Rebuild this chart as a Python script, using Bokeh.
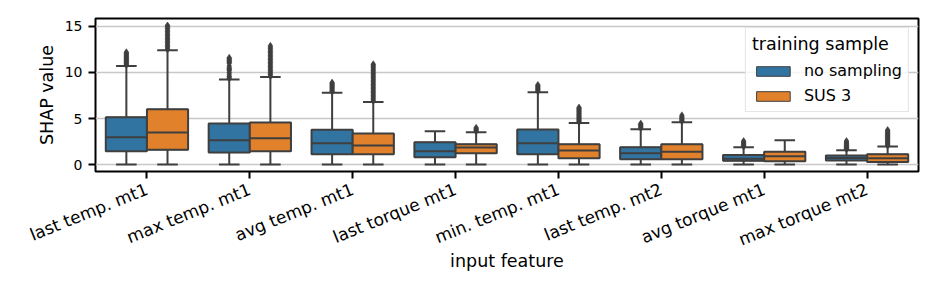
import math
from bokeh.plotting import figure
from bokeh.models import (ColumnDataSource, FixedTicker, Legend, LegendItem, Range1d)
from bokeh.embed import file_html
from bokeh.resources import INLINE

# ---------------- data ----------------
categories = ["last temp. mt1", "max temp. mt1", "avg temp. mt1", "last torque mt1",
              "min. temp. mt1", "last temp. mt2", "avg torque mt1", "max torque mt2"]
series_names = ["no sampling", "SUS 3"]

ns_low = [0.0, 0.0, 0.0, 0.0, 0.0, 0.0, 0.0, 0.0]
ns_q1 = [1.45, 1.3, 1.12, 0.8, 1.12, 0.58, 0.4, 0.45]
ns_med = [2.97, 2.65, 2.32, 1.45, 2.32, 1.23, 0.62, 0.72]
ns_q3 = [5.14, 4.45, 3.77, 2.42, 3.8, 1.88, 1.05, 0.98]
ns_high = [10.7, 9.24, 7.8, 3.62, 7.86, 3.84, 1.88, 1.56]
ns_outliers = [
    [10.8, 10.9, 11.0, 11.1, 11.2, 11.3, 11.4, 11.5, 11.6, 11.7, 11.8, 11.9, 12.0, 12.1, 12.2],
    [9.35, 9.5, 9.6, 9.8, 10.0, 10.2, 10.3, 10.4, 10.5, 10.7, 11.0, 11.1, 11.2, 11.3, 11.4, 11.5, 11.6],
    [7.9, 8.0, 8.1, 8.2, 8.3, 8.4, 8.5, 8.6, 8.7, 8.8, 8.9],
    [],
    [7.95, 8.05, 8.15, 8.25, 8.35, 8.45, 8.55, 8.65],
    [3.95, 4.05, 4.15, 4.25, 4.35, 4.45],
    [1.95, 2.05, 2.15, 2.25, 2.35, 2.45, 2.55],
    [1.65, 1.75, 1.85, 1.95, 2.05, 2.15, 2.25, 2.35, 2.45, 2.55],
]

sus_low = [0.0, 0.0, 0.0, 0.0, 0.0, 0.0, 0.0, 0.0]
sus_q1 = [1.6, 1.45, 1.12, 1.23, 0.69, 0.58, 0.36, 0.29]
sus_med = [3.48, 2.86, 2.07, 1.85, 1.52, 1.38, 0.9, 0.69]
sus_q3 = [6.0, 4.57, 3.37, 2.21, 2.2, 2.2, 1.38, 1.12]
sus_high = [12.4, 9.5, 6.8, 3.5, 4.5, 4.6, 2.64, 1.96]
sus_outliers = [
    [12.5, 12.65, 12.8, 12.95, 13.1, 13.25, 13.4, 13.55, 13.7, 13.85, 14.0, 14.15, 14.3,
     14.45, 14.6, 14.75, 14.9, 15.05, 15.1],
    [9.6, 9.75, 9.9, 10.05, 10.2, 10.35, 10.5, 10.65, 10.8, 10.95, 11.1, 11.25, 11.4, 11.55,
     11.7, 11.85, 12.0, 12.15, 12.3, 12.45, 12.6, 12.75, 12.9],
    [6.9, 7.05, 7.2, 7.35, 7.5, 7.65, 7.8, 7.95, 8.1, 8.25, 8.4, 8.55, 8.7, 8.85, 9.0, 9.15,
     9.3, 9.45, 9.6, 9.75, 9.9, 10.05, 10.2, 10.35, 10.5, 10.65, 10.8, 10.9],
    [3.6, 3.7, 3.8, 3.9, 4.0],
    [4.6, 4.7, 4.8, 4.9, 5.0, 5.1, 5.2, 5.3, 5.4, 5.5, 5.6, 5.7, 5.8, 5.9, 6.0, 6.1, 6.2],
    [4.7, 4.8, 4.9, 5.0, 5.1, 5.2, 5.35],
    [],
    [2.05, 2.15, 2.25, 2.35, 2.45, 2.55, 2.65, 2.75, 2.85, 2.95, 3.05, 3.15, 3.25, 3.35,
     3.45, 3.55, 3.65, 3.75],
]

y_ticks = [0, 5, 10, 15]

# ---------------- styling ----------------
COLORS = ["#3274a1", "#e1812c"]
EDGE = "#3f3f3f"
FONT = "DejaVu Sans"

p = figure(width=928, height=280, output_backend="svg", toolbar_location=None,
           x_range=Range1d(-0.5, len(categories) - 0.5), y_range=Range1d(-0.755, 15.86),
           min_border_left=95, min_border_right=10, min_border_top=18, min_border_bottom=109)

p.background_fill_color = "white"
p.border_fill_color = "white"
p.outline_line_color = "black"
p.outline_line_width = 2

series = [
    (ns_low, ns_q1, ns_med, ns_q3, ns_high, ns_outliers),
    (sus_low, sus_q1, sus_med, sus_q3, sus_high, sus_outliers),
]
offsets = [-0.2, 0.2]
box_w = 0.4
legend_renderers = []

for s_idx, (lo, q1, med, q3, hi, outs) in enumerate(series):
    xs = [i + offsets[s_idx] for i in range(len(categories))]
    src = ColumnDataSource(dict(
        x=xs, lo=lo, q1=q1, med=med, q3=q3, hi=hi,
        cap_l=[x - box_w / 4 for x in xs], cap_r=[x + box_w / 4 for x in xs],
        box_l=[x - box_w / 2 for x in xs], box_r=[x + box_w / 2 for x in xs],
    ))
    # whiskers
    p.segment(x0="x", y0="q3", x1="x", y1="hi", source=src, line_color=EDGE, line_width=2)
    p.segment(x0="x", y0="q1", x1="x", y1="lo", source=src, line_color=EDGE, line_width=2)
    # caps
    p.segment(x0="cap_l", y0="hi", x1="cap_r", y1="hi", source=src, line_color=EDGE, line_width=2)
    p.segment(x0="cap_l", y0="lo", x1="cap_r", y1="lo", source=src, line_color=EDGE, line_width=2)
    # thin-edged copy of the boxes (used as the legend swatch, covered by the real boxes)
    r_leg = p.vbar(x="x", width=box_w, bottom="q1", top="q3", source=src,
                   fill_color=COLORS[s_idx], line_color=EDGE, line_width=1)
    legend_renderers.append(r_leg)
    # boxes
    p.vbar(x="x", width=box_w, bottom="q1", top="q3", source=src,
           fill_color=COLORS[s_idx], line_color=EDGE, line_width=2)
    # medians
    p.segment(x0="box_l", y0="med", x1="box_r", y1="med", source=src, line_color=EDGE, line_width=2)
    # outliers
    ox, oy = [], []
    for i, vals in enumerate(outs):
        for v in vals:
            ox.append(xs[i])
            oy.append(v)
    p.scatter(x=ox, y=oy, marker="diamond", size=7, fill_color=EDGE, line_color=EDGE,
              line_width=0.5)

# ---------------- axes ----------------
p.xaxis.ticker = FixedTicker(ticks=list(range(len(categories))))
p.xaxis.major_label_overrides = {i: c for i, c in enumerate(categories)}
p.xaxis.major_label_orientation = math.radians(22)
p.yaxis.ticker = FixedTicker(ticks=y_ticks)

for ax in (p.xaxis[0], p.yaxis[0]):
    ax.axis_line_color = None
    ax.major_tick_line_color = "black"
    ax.major_tick_line_width = 2
    ax.major_tick_out = 7
    ax.major_tick_in = 0
    ax.minor_tick_line_color = None
    ax.major_label_text_font = FONT
    ax.major_label_text_color = "black"
    ax.axis_label_text_font = FONT
    ax.axis_label_text_font_style = "normal"
    ax.axis_label_text_font_size = "17.5px"
    ax.axis_label_text_color = "black"

p.xaxis.major_label_text_font_size = "17px"
p.yaxis.major_label_text_font_size = "14px"
p.xaxis.axis_label = "input feature"
p.yaxis.axis_label = "SHAP value"
p.xaxis.major_label_standoff = 10
p.yaxis.major_label_standoff = 6
p.xaxis.axis_label_standoff = -11
p.yaxis.axis_label_standoff = 5

p.xgrid.grid_line_color = None
p.ygrid.grid_line_color = "#c8c8c8"
p.ygrid.grid_line_width = 1.5

# ---------------- legend ----------------
legend = Legend(items=[LegendItem(label=series_names[i], renderers=[legend_renderers[i]])
                       for i in range(2)],
                location="top_right", title="training sample")
legend.title_text_font = FONT
legend.title_text_font_size = "17.5px"
legend.title_text_font_style = "normal"
legend.title_text_color = "black"
legend.label_text_font = FONT
legend.label_text_font_size = "16px"
legend.label_text_color = "black"
legend.glyph_width = 42
legend.glyph_height = 12
legend.label_standoff = 10
legend.padding = 6
legend.spacing = 6
legend.title_standoff = 7
legend.margin = 9
legend.border_line_color = "#cccccc"
legend.border_line_width = 1
legend.background_fill_alpha = 0.8
p.add_layout(legend)

open("out.html", "w").write(file_html(p, INLINE))
